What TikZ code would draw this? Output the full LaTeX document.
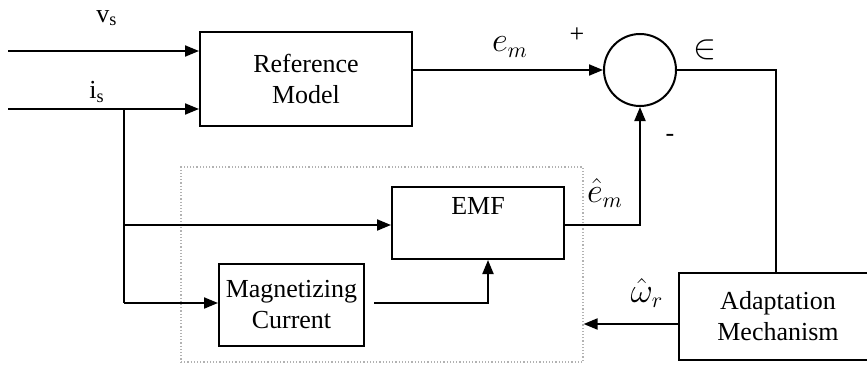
\documentclass[tikz,border=0pt]{standalone}
\usepackage{fontspec}
\setmainfont{Liberation Serif}
\usetikzlibrary{arrows.meta,positioning}

\begin{document}
\begin{tikzpicture}[x=0.5pt, y=-0.5pt, font=\fontsize{13}{15.5}\selectfont,
    blk/.style={draw, line width=1pt, align=center, inner sep=0pt},
    sig/.style={line width=1pt, -{Triangle[length=7pt,width=5.5pt]}},
    wire/.style={line width=1pt},
    sym/.style={font=\fontsize{16}{18}\selectfont, inner sep=1pt}]
  \useasboundingbox (0,0) rectangle (867,364);
  \clip (0,0) rectangle (867,364);
  % Blocks
  \node[blk, minimum width=106pt, minimum height=47pt] (refm) at (306,79) {Reference\\Model};
  \node[draw, circle, line width=1pt, minimum size=36pt, inner sep=0pt] (sum) at (640,70) {};
  \node[draw, gray!60, line width=0.6pt, densely dotted, minimum width=201pt, minimum height=97.5pt] (frame) at (382,264.5) {};
  \node[blk, minimum width=86pt, minimum height=36pt,
        label={[anchor=north, yshift=-2pt]north:EMF}] (emf) at (478,223) {};
  \node[blk, minimum width=72.5pt, minimum height=41pt] (magn) at (291.5,305) {Magnetizing\\Current};
  \node[blk, minimum width=99pt, minimum height=43.5pt] (adapt) at (778,316.5) {Adaptation\\Mechanism};
  % Inputs
  \coordinate (vin) at (8,51);
  \coordinate (iin) at (8,109);
  \coordinate (br) at (124,109);
  \draw[sig] (vin) -- (vin -| refm.west);
  \draw[sig] (iin) -- (iin -| refm.west);
  \node (vlbl) at (107,18) {v\textsubscript{s}};
  \node (ilbl) at (97,92) {i\textsubscript{s}};
  % Current branch to the estimator
  \draw[wire] (br) -- (124,303);
  \draw[sig] (124,225) -- (emf.west |- 0,225);
  \draw[sig] (124,303) -- (magn.west |- 0,303);
  \draw[sig, shorten <=4.5pt] (magn.east |- 0,303) -| (emf.south -| 488,0);
  % Error loop
  \draw[sig] (refm.east |- sum.west) -- (sum.west);
  \draw[sig] (emf.east |- 0,225) -| (sum.south);
  \draw[wire] (sum.east) -| (adapt.north -| 776,0);
  \draw[sig] (adapt.west |- 0,324) -- (frame.east |- 0,324);
  % Labels
  \node[sym] (em) at (510,47) {$e_m$};
  \node (plus) at (577,35) {+};
  \node (minus) at (670,138) {-};
  \node[sym] (err) at (705,50) {$\in$};
  \node[sym] (emhat) at (605,193) {$\hat{e}_m$};
  \node[sym] (wr) at (647,293) {$\hat{\omega}_r$};
\end{tikzpicture}
\end{document}
